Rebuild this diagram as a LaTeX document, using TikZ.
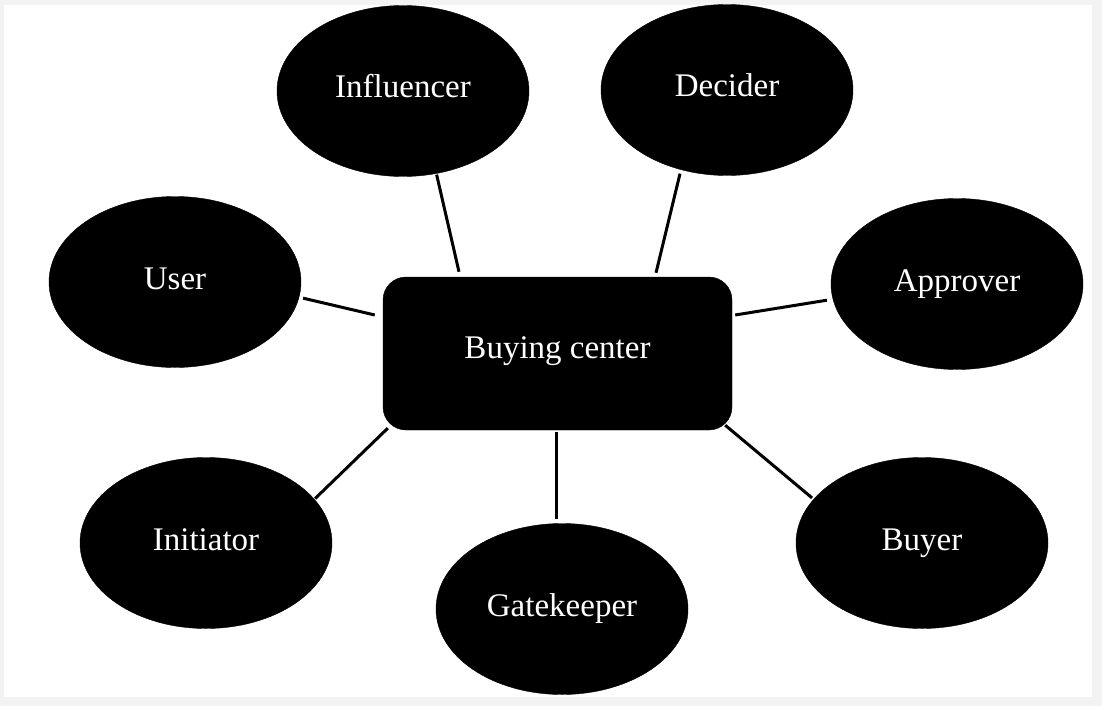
\documentclass[tikz,border=0pt]{standalone}
\usepackage{fontspec}
\setmainfont{Liberation Serif}
\usetikzlibrary{shapes.geometric}
\definecolor{bggray}{HTML}{F3F3F3}
\tikzset{
  role/.style={ellipse, fill=black, draw=black, text=white, inner sep=0pt,
    minimum width=252pt, minimum height=171pt,
    font=\fontsize{33}{40}\selectfont, text height=24pt, text depth=10pt},
  hub/.style={rectangle, rounded corners=23pt, fill=black, draw=black, text=white,
    inner sep=0pt, minimum width=349pt, minimum height=153pt,
    font=\fontsize{33}{40}\selectfont, text height=24pt, text depth=15pt},
  conn/.style={draw=black, line width=3pt}
}
\begin{document}
\begin{tikzpicture}[x=1pt,y=-1pt]
\useasboundingbox (0,0) rectangle (1102,706);
\fill[bggray] (0,0) rectangle (1102,706);
\fill[white] (4,5) rectangle (1092,697);

\node[hub] (box) at (557.5,353.5) {Buying center};
\node[role] (infl) at (403,91) {Influencer};
\node[role] (dec) at (727,90) {Decider};
\node[role] (user) at (175,282) {User};
\node[role] (appr) at (957,284) {Approver};
\node[role] (init) at (206,543) {Initiator};
\node[role] (gate) at (562,609) {Gatekeeper};
\node[role] (buyer) at (922,543) {Buyer};

\draw[conn, shorten <=1pt] (infl.-68) -- ([xshift=-98.5pt,yshift=5pt]box.north);
\draw[conn, shorten <=4pt] (dec.-120.8) -- ([xshift=98.5pt,yshift=4pt]box.north);
\draw[conn, shorten <=4pt] (user.-7.1) -- ([xshift=-8pt,yshift=38.5pt]box.west);
\draw[conn, shorten <=6pt] (appr.187.5) -- ([xshift=3pt,yshift=38.5pt]box.east);
\draw[conn, shorten <=1pt] (init.22.4) -- ([xshift=5pt,yshift=2pt]box.south west);
\draw[conn] ([xshift=-1.5pt,yshift=-2pt]box.south) -- ([xshift=-6pt,yshift=4pt]gate.north);
\draw[conn, shorten <=2pt] (buyer.158.5) -- ([xshift=-7pt,yshift=5pt]box.south east);
\end{tikzpicture}
\end{document}
